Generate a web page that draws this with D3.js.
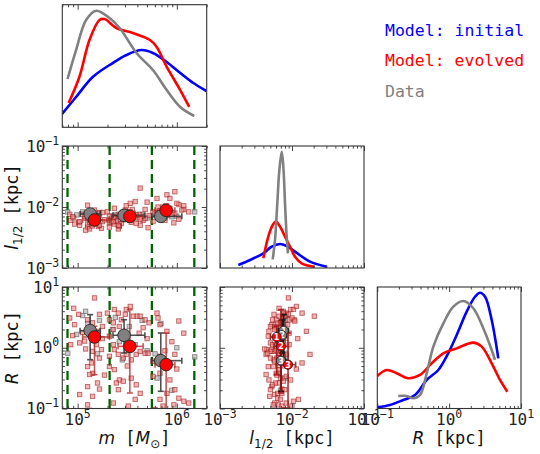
<!DOCTYPE html>
<html><head><meta charset="utf-8">
<script src="https://cdn.jsdelivr.net/npm/d3@7"></script>
<style>body{margin:0;background:#fff}</style>
</head><body><svg id="c" width="540" height="454"></svg>
<script>
// ---------------- DATA (log10 values) ----------------
const massBinEdges = [7.9e4, 2.1e5, 5.6e5, 1.5e6];
// KDE curves: [log10 x, relative density]
const massKdeInitial = [[4.841,0.108],[4.984,0.247],[5.152,0.41],[5.353,0.524],[5.492,0.59],[5.644,0.63],[5.759,0.606],[5.898,0.533],[6.034,0.443],[6.166,0.361],[6.298,0.296]];
const massKdeEvolved = [[4.909,0.198],[5.017,0.41],[5.119,0.712],[5.22,0.875],[5.271,0.883],[5.39,0.81],[5.556,0.769],[5.729,0.712],[5.797,0.655],[5.898,0.492],[6.034,0.304],[6.125,0.166]];
const massKdeData = [[4.898,0.394],[4.984,0.63],[5.085,0.875],[5.187,0.951],[5.322,0.891],[5.424,0.81],[5.593,0.606],[5.759,0.467],[5.898,0.304],[6.034,0.166],[6.176,0.092]];
const sizeKdeInitial = [[-2.745,0.025],[-2.583,0.066],[-2.398,0.12],[-2.282,0.175],[-2.167,0.197],[-2.074,0.18],[-1.958,0.134],[-1.75,0.052],[-1.518,0.01]];
const sizeKdeEvolved = [[-2.398,0.08],[-2.329,0.257],[-2.268,0.352],[-2.222,0.38],[-2.167,0.34],[-2.097,0.257],[-2.028,0.175],[-1.958,0.093],[-1.865,0.038],[-1.69,0.01]];
const sizeKdeData = [[-2.268,0.071],[-2.236,0.23],[-2.204,0.53],[-2.176,0.80],[-2.143,0.953],[-2.12,0.83],[-2.097,0.53],[-2.074,0.257],[-2.056,0.12]];
const radKdeInitial = [[-1.0,0.01],[-0.823,0.029],[-0.638,0.07],[-0.475,0.111],[-0.312,0.235],[-0.151,0.317],[-0.026,0.44],[0.105,0.605],[0.244,0.797],[0.36,0.92],[0.43,0.953],[0.5,0.92],[0.592,0.728],[0.684,0.413]];
const radKdeEvolved = [[-1.0,0.267],[-0.869,0.317],[-0.73,0.29],[-0.569,0.249],[-0.406,0.276],[-0.243,0.372],[-0.081,0.454],[0.105,0.495],[0.336,0.542],[0.453,0.509],[0.592,0.372],[0.708,0.235],[0.81,0.138]];
const radKdeData = [[-0.708,0.103],[-0.591,0.103],[-0.499,0.084],[-0.406,0.111],[-0.312,0.29],[-0.22,0.509],[-0.081,0.70],[0.058,0.838],[0.197,0.885],[0.336,0.825],[0.475,0.66],[0.592,0.481],[0.638,0.40]];

// model (evolved) clusters
const modelLogM = [5.17,4.96,5.01,4.92,4.97,4.93,5.02,5.07,5.10,5.15,5.22,5.25,5.21,5.19,5.24,5.15,5.22,5.14,5.10,5.15,5.12,5.20,5.10,5.22,5.02,5.15,5.10,5.30,5.32,5.36,5.37,5.41,5.44,5.48,5.49,5.53,5.56,5.60,5.63,5.68,5.72,5.66,5.62,5.42,5.36,5.32,5.36,5.37,5.32,5.41,5.46,5.49,5.54,5.59,5.63,5.68,5.71,5.32,5.37,5.42,5.46,5.39,5.54,5.59,5.63,5.58,5.36,5.51,5.41,5.80,5.81,5.83,5.90,6.02,6.07,5.98,5.83,5.76,5.93,5.83,5.76,5.93,5.90,5.98,6.02,6.07,6.12,5.97,5.86,5.83,5.05,5.08,4.95,5.25,5.45,5.55,5.70,5.95,6.00,5.88,5.50,5.27,5.12,5.78,6.05];
const modelLogR = [0.82,0.65,0.55,0.49,0.38,0.05,0.08,0.11,0.46,0.41,0.55,0.35,0.27,0.05,-0.03,-0.06,-0.17,-0.25,-0.31,-0.42,-0.44,-0.58,-0.64,-0.68,-0.77,-0.80,-0.94,0.57,0.46,0.41,0.63,0.57,0.46,0.55,0.63,0.68,0.52,0.52,0.52,0.46,0.41,0.33,0.24,0.35,0.30,0.19,0.05,-0.03,-0.14,-0.11,-0.17,-0.11,-0.20,-0.11,-0.06,-0.09,-0.09,-0.31,-0.36,-0.53,-0.55,-0.58,-0.50,-0.61,-0.75,-0.85,-0.91,-0.96,-0.69,0.57,0.49,0.38,0.27,0.44,0.24,-0.11,-0.14,-0.22,-0.25,-0.42,-0.47,-0.53,-0.75,-0.69,-0.83,-0.88,-0.91,-0.94,-0.96,-0.85,0.25,-0.02,0.20,0.15,0.25,0.05,0.15,0.10,-0.35,-0.05,-0.30,-0.45,-1.03,-1.02,-1.03];
const modelLogL = [-2.05,-2.18,-2.25,-2.12,-2.28,-2.22,-2.30,-2.15,-1.97,-2.20,-2.10,-2.24,-2.32,-2.27,-2.35,-2.26,-2.30,-2.20,-2.33,-2.22,-2.36,-2.18,-2.28,-2.14,-2.24,-2.31,-2.19,-2.08,-2.22,-2.16,-2.02,-2.12,-2.27,-2.05,-1.98,-1.94,-2.10,-2.18,-1.69,-2.04,-2.14,-2.22,-2.12,-2.30,-2.24,-2.33,-2.19,-2.28,-2.15,-2.36,-2.21,-2.08,-2.25,-2.13,-2.30,-2.19,-2.34,-2.26,-2.18,-2.32,-2.12,-2.23,-2.16,-2.27,-2.20,-1.91,-2.24,-2.14,-2.30,-1.86,-2.00,-2.06,-1.80,-1.96,-2.04,-1.75,-2.12,-2.24,-1.86,-2.18,-2.08,-2.02,-2.14,-2.10,-2.20,-1.98,-2.08,-2.26,-2.00,-2.16,-2.12,-2.38,-2.16,-2.09,-2.17,-2.04,-1.92,-2.12,-1.94,-2.22,-2.10,-2.21,-2.25,-2.10,-2.05];
// observed clusters
const dataLogM = [4.90,4.99,5.05,5.10,5.14,5.18,5.22,5.08,5.20,5.38,5.42,5.47,5.52,5.58,5.65,5.70,5.45,5.35,5.78,5.84,5.88,5.95,5.80,6.00,6.18];
const dataLogR = [-0.09,0.22,0.53,0.40,0.30,0.15,0.45,0.60,-0.10,0.50,0.10,0.25,0.35,0.05,0.45,-0.05,-0.20,0.30,-0.10,0.40,-0.30,-0.70,-0.50,0.00,-0.15];
const dataLogL = [-2.08,-2.13,-2.08,-2.15,-2.11,-2.20,-2.09,-2.12,-2.17,-2.13,-2.20,-2.14,-2.10,-2.16,-2.12,-2.18,-2.09,-2.15,-2.14,-2.12,-2.18,-2.16,-2.10,-2.15,-2.08];

// binned medians: [centre, lo, hi]
const dataBinM = [[5.126,5.024,5.227],[5.468,5.356,5.678],[5.838,5.746,6.05]];
const dataBinL = [[-2.115,-2.19,-2.05],[-2.137,-2.19,-2.08],[-2.153,-2.20,-2.10]];
const dataBinR = [[0.281,-0.196,0.545],[0.205,-0.086,0.462],[-0.212,-0.717,0.243]];
const modelBinM = [[5.17,5.05,5.32],[5.526,5.407,5.66],[5.892,5.78,5.98]];
const modelBinL = [[-2.213,-2.30,-2.12],[-2.153,-2.25,-2.05],[-2.055,-2.15,-1.95]];
const modelBinR = [[0.177,-0.443,0.353],[0.023,-0.745,0.627],[-0.278,-1.3,0.243]];
const binLabels = ["1","2","3"];

const legendItems = [["Model: initial","#0000ff"],["Model: evolved","#ff0000"],["Data","#808080"]];

// ---------------- LAYOUT ----------------
const cols = [[62.3,206.7],[220,364],[377.3,521]];
const rows = [[4.7,127.3],[146,268],[287,408.5]];
const C = {blue:"#0000ff", red:"#ff0000", gray:"#808080"};
const MONO = "'DejaVu Sans Mono', monospace";
const SANS = "'DejaVu Sans', sans-serif";
const svg = d3.select("#c");
const p = v => Math.pow(10, v);

const xM = d3.scaleLog().domain([7e4, 2e6]).range(cols[0]);
const xL = d3.scaleLog().domain([1e-3, 1e-1]).range(cols[1]);
const xR = d3.scaleLog().domain([1e-1, 1e1]).range(cols[2]);
const yL = d3.scaleLog().domain([1e-3, 1e-1]).range([rows[1][1], rows[1][0]]);
const yR = d3.scaleLog().domain([1e-1, 1e1]).range([rows[2][1], rows[2][0]]);
const yD = r => d3.scaleLinear().domain([0,1]).range([rows[r][1], rows[r][0]]);

function logTicks(dom){
  const lo = Math.log10(dom[0]), hi = Math.log10(dom[1]);
  const maj=[], min=[];
  for(let e=Math.floor(lo)-1;e<=Math.ceil(hi);e++){
    for(let k=1;k<10;k++){
      const v=k*Math.pow(10,e), lv=Math.log10(v);
      if(lv<lo-1e-9||lv>hi+1e-9) continue;
      (k===1?maj:min).push(v);
    }
  }
  return {maj,min};
}

let clipId=0;
function panel(ci, ri, x, y, opts){
  const [l,r]=cols[ci],[t,b]=rows[ri];
  const g = svg.append("g");
  const id="clip"+(clipId++);
  svg.append("clipPath").attr("id",id).append("rect").attr("x",l).attr("y",t).attr("width",r-l).attr("height",b-t);
  const inner = g.append("g").attr("clip-path",`url(#${id})`);
  const ticksG = g.append("g");
  const style = sel => { sel.select(".domain").remove(); sel.selectAll("line").attr("stroke","#333").attr("stroke-width",0.9); };
  const xt = logTicks(x.domain());
  [[xt.maj,5],[xt.min,2.6]].forEach(([vals,len])=>{
    ticksG.append("g").attr("transform",`translate(0,${b})`).call(d3.axisBottom(x).tickValues(vals).tickSize(-len).tickFormat("")).call(style);
    ticksG.append("g").attr("transform",`translate(0,${t})`).call(d3.axisTop(x).tickValues(vals).tickSize(-len).tickFormat("")).call(style);
  });
  if(opts.yLog){
    const yt = logTicks(y.domain());
    [[yt.maj,5],[yt.min,2.6]].forEach(([vals,len])=>{
      ticksG.append("g").attr("transform",`translate(${l},0)`).call(d3.axisLeft(y).tickValues(vals).tickSize(-len).tickFormat("")).call(style);
      ticksG.append("g").attr("transform",`translate(${r},0)`).call(d3.axisRight(y).tickValues(vals).tickSize(-len).tickFormat("")).call(style);
    });
    if(opts.yLabels){
      yt.maj.forEach(v=>{
        const e=Math.round(Math.log10(v));
        const tx=g.append("text").attr("x",l-3).attr("y",y(v)+5.5).attr("text-anchor","end")
          .attr("font-family",MONO).attr("font-size",16).attr("fill","#222");
        tx.append("tspan").text("10");
        tx.append("tspan").attr("dy",-7).attr("font-size",11.5).text(String(e).replace("-","\u2212"));
      });
    }
  }
  if(opts.xLabels){
    xt.maj.forEach(v=>{
      const e=Math.round(Math.log10(v));
      const tx=g.append("text").attr("x",x(v)).attr("y",b+16).attr("text-anchor","middle")
        .attr("font-family",MONO).attr("font-size",16).attr("fill","#222");
      tx.append("tspan").text("10");
      tx.append("tspan").attr("dy",-7).attr("font-size",11.5).text(String(e).replace("-","\u2212"));
    });
  }
  g.append("rect").attr("x",l).attr("y",t).attr("width",r-l).attr("height",b-t)
    .attr("fill","none").attr("stroke","#333").attr("stroke-width",1.1);
  return inner;
}

function curve(g, x, y, data, color){
  g.append("path").datum(data).attr("fill","none").attr("stroke",color).attr("stroke-width",2.6)
    .attr("stroke-linejoin","round")
    .attr("d", d3.line().x(d=>x(p(d[0]))).y(d=>y(d[1])).curve(d3.curveCatmullRom.alpha(0.5)));
}

function squares(g, xs, ys, fill, stroke){
  g.append("g").selectAll("rect").data(xs.map((v,i)=>[v,ys[i]])).join("rect")
    .attr("x",d=>d[0]-2.2).attr("y",d=>d[1]-2.2).attr("width",4.4).attr("height",4.4)
    .attr("fill",fill).attr("stroke",stroke).attr("stroke-width",0.9);
}

function errbars(g, bx, by, x, y, color, op){
  const gg=g.append("g").attr("stroke",color).attr("stroke-width",1.6).attr("opacity",op);
  bx.forEach((m,i)=>{
    const cx=x(p(m[0])), cy=y(p(by[i][0]));
    const x0=x(p(m[1])), x1=x(p(m[2])), y0=y(p(by[i][1])), y1=y(p(by[i][2]));
    gg.append("line").attr("x1",x0).attr("x2",x1).attr("y1",cy).attr("y2",cy);
    gg.append("line").attr("x1",cx).attr("x2",cx).attr("y1",y0).attr("y2",y1);
    [x0,x1].forEach(xx=>gg.append("line").attr("x1",xx).attr("x2",xx).attr("y1",cy-3).attr("y2",cy+3));
    [y0,y1].forEach(yy=>gg.append("line").attr("x1",cx-3).attr("x2",cx+3).attr("y1",yy).attr("y2",yy));
  });
}

function dots(g, bx, by, x, y, fill, r, labels){
  bx.forEach((m,i)=>{
    const cx=x(p(m[0])), cy=y(p(by[i][0]));
    g.append("circle").attr("cx",cx).attr("cy",cy).attr("r",r).attr("fill",fill).attr("stroke","#222").attr("stroke-width",0.9);
    if(labels) g.append("text").attr("x",cx).attr("y",cy+3).attr("text-anchor","middle")
      .attr("font-family",SANS).attr("font-size",8).attr("font-weight","bold").attr("fill","#fff").text(labels[i]);
  });
}

function greenLines(g, ri){
  massBinEdges.forEach(v=>g.append("line").attr("x1",xM(v)).attr("x2",xM(v))
    .attr("y1",rows[ri][0]).attr("y2",rows[ri][1]).attr("stroke","#006400").attr("stroke-width",2.3)
    .attr("stroke-dasharray","9,5"));
}

const modelFill="rgba(240,128,128,0.6)", modelStroke="rgba(139,0,0,0.55)";
const dataFill="rgba(190,190,190,0.8)", dataStroke="rgba(100,100,100,0.7)";

// ---- Top-left: mass KDE
{
  const y=yD(0);
  const g=panel(0,0,xM,y,{});
  curve(g,xM,y,massKdeInitial,C.blue);
  curve(g,xM,y,massKdeEvolved,C.red);
  curve(g,xM,y,massKdeData,C.gray);
}
// ---- Middle-left: m vs l
{
  const g=panel(0,1,xM,yL,{yLog:true,yLabels:true});
  greenLines(g,1);
  squares(g, dataLogM.map(v=>xM(p(v))), dataLogL.map(v=>yL(p(v))), dataFill, dataStroke);
  squares(g, modelLogM.map(v=>xM(p(v))), modelLogL.map(v=>yL(p(v))), modelFill, modelStroke);
  errbars(g,dataBinM,dataBinL,xM,yL,"#333",0.85);
  errbars(g,modelBinM,modelBinL,xM,yL,"#b22222",0.75);
  dots(g,dataBinM,dataBinL,xM,yL,C.gray,6.3);
  dots(g,modelBinM,modelBinL,xM,yL,C.red,6.3);
}
// ---- Middle-centre: l KDE
{
  const y=yD(1);
  const g=panel(1,1,xL,y,{});
  curve(g,xL,y,sizeKdeInitial,C.blue);
  curve(g,xL,y,sizeKdeEvolved,C.red);
  curve(g,xL,y,sizeKdeData,C.gray);
}
// ---- Bottom-left: m vs R
{
  const g=panel(0,2,xM,yR,{yLog:true,yLabels:true,xLabels:true});
  greenLines(g,2);
  squares(g, dataLogM.map(v=>xM(p(v))), dataLogR.map(v=>yR(p(v))), dataFill, dataStroke);
  squares(g, modelLogM.map(v=>xM(p(v))), modelLogR.map(v=>yR(p(v))), modelFill, modelStroke);
  errbars(g,dataBinM,dataBinR,xM,yR,"#333",0.85);
  errbars(g,modelBinM,modelBinR,xM,yR,"#b22222",0.75);
  dots(g,dataBinM,dataBinR,xM,yR,C.gray,6.3);
  dots(g,modelBinM,modelBinR,xM,yR,C.red,6.3);
}
// ---- Bottom-centre: l vs R
{
  const g=panel(1,2,xL,yR,{yLog:true,xLabels:true});
  squares(g, dataLogL.map(v=>xL(p(v))), dataLogR.map(v=>yR(p(v))), dataFill, dataStroke);
  squares(g, modelLogL.map(v=>xL(p(v))), modelLogR.map(v=>yR(p(v))), modelFill, modelStroke);
  errbars(g,dataBinL,dataBinR,xL,yR,"#111",0.9);
  errbars(g,modelBinL,modelBinR,xL,yR,"#a01010",0.85);
  dots(g,dataBinL,dataBinR,xL,yR,C.gray,4.6,binLabels);
  dots(g,modelBinL,modelBinR,xL,yR,C.red,4.6,binLabels);
}
// ---- Bottom-right: R KDE
{
  const y=yD(2);
  const g=panel(2,2,xR,y,{xLabels:true});
  curve(g,xR,y,radKdeInitial,C.blue);
  curve(g,xR,y,radKdeEvolved,C.red);
  curve(g,xR,y,radKdeData,C.gray);
}

// ---- Axis labels
function xlabel(cx, parts){
  const t=svg.append("text").attr("x",cx).attr("y",444).attr("text-anchor","middle").attr("font-size",17).attr("fill","#111");
  parts(t);
}
xlabel((cols[0][0]+cols[0][1])/2, t=>{
  t.append("tspan").attr("font-family",SANS).attr("font-style","italic").text("m");
  t.append("tspan").attr("font-family",MONO).text("  [");
  t.append("tspan").attr("font-family",SANS).attr("font-style","italic").text("M");
  t.append("tspan").attr("font-family",SANS).attr("font-size",12).attr("dy",4).text("\u2299");
  t.append("tspan").attr("font-family",MONO).attr("dy",-4).text("]");
});
xlabel((cols[1][0]+cols[1][1])/2, t=>{
  t.append("tspan").attr("font-family",SANS).attr("font-style","italic").text("l");
  t.append("tspan").attr("font-family",SANS).attr("font-size",12).attr("dy",4).text("1/2");
  t.append("tspan").attr("font-family",MONO).attr("dy",-4).text("  [kpc]");
});
xlabel((cols[2][0]+cols[2][1])/2, t=>{
  t.append("tspan").attr("font-family",SANS).attr("font-style","italic").text("R");
  t.append("tspan").attr("font-family",MONO).text("  [kpc]");
});
function ylabel(cy, parts){
  const t=svg.append("text").attr("transform",`translate(18,${cy}) rotate(-90)`).attr("text-anchor","middle").attr("font-size",17).attr("fill","#111");
  parts(t);
}
ylabel((rows[1][0]+rows[1][1])/2, t=>{
  t.append("tspan").attr("font-family",SANS).attr("font-style","italic").text("l");
  t.append("tspan").attr("font-family",SANS).attr("font-size",12).attr("dy",4).text("1/2");
  t.append("tspan").attr("font-family",MONO).attr("dy",-4).text("  [kpc]");
});
ylabel((rows[2][0]+rows[2][1])/2, t=>{
  t.append("tspan").attr("font-family",SANS).attr("font-style","italic").text("R");
  t.append("tspan").attr("font-family",MONO).text("  [kpc]");
});

// ---- Legend
legendItems.forEach(([txt,col],i)=>{
  svg.append("text").attr("x",385).attr("y",36+i*30.3).attr("font-family",MONO).attr("font-size",16.5)
    .attr("fill",col).text(txt);
});
</script></body></html>
